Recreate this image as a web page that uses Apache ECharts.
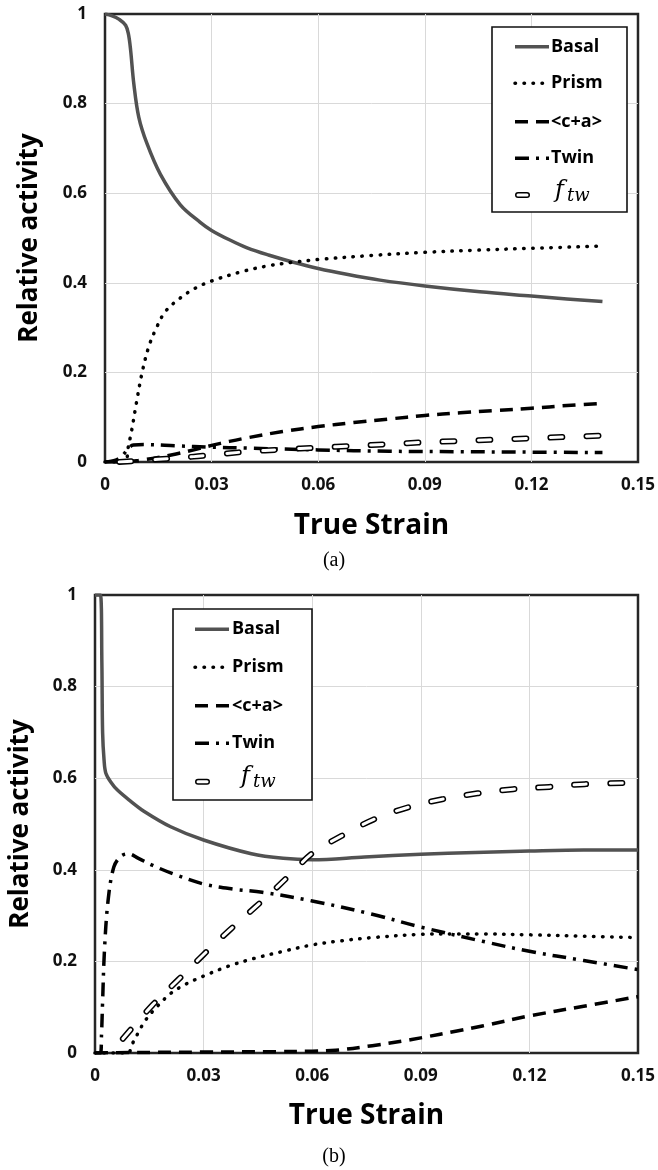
<!DOCTYPE html>
<html><head><meta charset="utf-8">
<script src="https://cdn.jsdelivr.net/npm/echarts@6/dist/echarts.min.js"></script>
<style>html,body{margin:0;padding:0;background:#fff}#c{width:658px;height:1170px}</style>
</head><body><div id="c"></div>
<script>
// ---- tick labels / names ----
const xTickLabels = ['0','0.03','0.06','0.09','0.12','0.15'];
const yTickLabels = ['0','0.2','0.4','0.6','0.8','1'];
const seriesNames = ['Basal','Prism','<c+a>','Twin','f_tw'];
const panelLabels = ['(a)','(b)'];

// ---- panel (a) data: [true strain, relative activity] ----
const basalA = [[0,1],[0.002,0.996],[0.004,0.988],[0.0058,0.975],[0.0066,0.955],[0.0072,0.92],[0.0081,0.845],[0.0095,0.77],[0.0118,0.711],[0.0156,0.642],[0.0212,0.574],[0.0268,0.535],[0.030,0.517],[0.035,0.496],[0.040,0.478],[0.046,0.462],[0.053,0.446],[0.060,0.432],[0.068,0.419],[0.0774,0.406],[0.090,0.393],[0.1055,0.380],[0.120,0.3705],[0.130,0.364],[0.140,0.358]];
const prismA = [[0,0],[0.006,0],[0.0064,0.027],[0.0075,0.07],[0.0088,0.13],[0.0104,0.198],[0.0123,0.257],[0.0145,0.30],[0.017,0.336],[0.021,0.365],[0.0254,0.388],[0.030,0.404],[0.0385,0.425],[0.046,0.438],[0.053,0.446],[0.060,0.452],[0.075,0.461],[0.090,0.468],[0.105,0.473],[0.120,0.477],[0.140,0.482]];
const caA = [[0,0],[0.005,0],[0.010,0.004],[0.015,0.010],[0.020,0.018],[0.025,0.027],[0.030,0.037],[0.035,0.046],[0.040,0.054],[0.050,0.068],[0.060,0.079],[0.070,0.088],[0.080,0.096],[0.090,0.104],[0.100,0.110],[0.110,0.115],[0.120,0.120],[0.130,0.126],[0.140,0.131]];
const twinA = [[0,0],[0.003,0.004],[0.005,0.015],[0.0065,0.03],[0.008,0.038],[0.011,0.039],[0.020,0.036],[0.030,0.033],[0.040,0.031],[0.060,0.027],[0.080,0.024],[0.100,0.023],[0.120,0.022],[0.140,0.021]];
const ftwA = [[0.004,0],[0.010,0.003],[0.015,0.006],[0.020,0.009],[0.025,0.012],[0.030,0.016],[0.040,0.023],[0.050,0.028],[0.060,0.032],[0.070,0.036],[0.080,0.040],[0.090,0.044],[0.100,0.047],[0.110,0.050],[0.120,0.053],[0.130,0.056],[0.140,0.059]];

// ---- panel (b) data ----
const basalB = [[0,1],[0.0015,1],[0.0019,0.85],[0.0021,0.70],[0.0025,0.64],[0.003,0.611],[0.0045,0.59],[0.0062,0.574],[0.0098,0.550],[0.0135,0.528],[0.0209,0.494],[0.030,0.465],[0.0432,0.435],[0.052,0.425],[0.060,0.422],[0.0745,0.428],[0.090,0.434],[0.105,0.438],[0.120,0.441],[0.135,0.443],[0.150,0.443]];
const prismB = [[0,0],[0.0092,0],[0.010,0.015],[0.012,0.045],[0.0138,0.07],[0.017,0.10],[0.0209,0.13],[0.025,0.15],[0.030,0.168],[0.037,0.19],[0.0442,0.207],[0.052,0.222],[0.060,0.236],[0.068,0.245],[0.0766,0.252],[0.090,0.259],[0.100,0.26],[0.107,0.26],[0.120,0.258],[0.135,0.255],[0.150,0.252]];
const caB = [[0,0],[0.010,0.001],[0.030,0.002],[0.050,0.003],[0.060,0.004],[0.0665,0.006],[0.0766,0.016],[0.085,0.026],[0.090,0.033],[0.100,0.048],[0.107,0.059],[0.120,0.081],[0.135,0.102],[0.150,0.123]];
const twinB = [[0,0],[0.0015,0],[0.0018,0.04],[0.0021,0.112],[0.0026,0.222],[0.0036,0.332],[0.0052,0.406],[0.0072,0.43],[0.0092,0.435],[0.012,0.425],[0.0158,0.41],[0.022,0.39],[0.030,0.369],[0.038,0.358],[0.0462,0.351],[0.060,0.332],[0.0766,0.303],[0.090,0.275],[0.107,0.244],[0.120,0.222],[0.135,0.202],[0.150,0.182]];
const ftwB = [[0.0077,0.031],[0.0158,0.104],[0.023,0.16],[0.030,0.215],[0.037,0.267],[0.0442,0.318],[0.0503,0.362],[0.055,0.398],[0.060,0.436],[0.0681,0.474],[0.077,0.51],[0.0863,0.536],[0.0959,0.554],[0.1057,0.567],[0.1155,0.576],[0.1255,0.581],[0.1353,0.587],[0.150,0.59]];

// ---- styles ----
const FONT = '"Open Sans", "Noto Sans", sans-serif';
const STYLES = {
  basal: {color:'#525252', width:3.5, type:'solid'},
  prism: {color:'#000', width:3.5, type:[0.5, 8.5], cap:'round'},
  ca:    {color:'#000', width:3.5, type:[13, 8], cap:'butt'},
  twin:  {color:'#000', width:3.5, type:[14, 7, 3, 7], cap:'butt'},
  ftwO:  {color:'#000', width:6, type:[12, 24], cap:'round'},
  ftwI:  {color:'#fff', width:3, type:[12, 24], cap:'round'}
};

const chart = echarts.init(document.getElementById('c'), null, {renderer:'canvas'});

function xAxis(gi, gap){
  return {type:'value', gridIndex:gi, min:0, max:0.15, interval:0.03,
    name:'True Strain', nameLocation:'middle', nameGap:gap,
    nameTextStyle:{fontFamily:FONT, fontWeight:'bold', fontSize:28, color:'#000'},
    axisLine:{show:false}, axisTick:{show:false},
    axisLabel:{margin:15, fontFamily:FONT, fontWeight:'bold', fontSize:17, color:'#111',
      formatter:v => xTickLabels[Math.round(v/0.03)] ?? ''},
    splitLine:{show:true, showMinLine:false, showMaxLine:false, lineStyle:{color:'#d9d9d9', width:1}}
  };
}
function yAxis(gi, gap){
  return {type:'value', gridIndex:gi, min:0, max:1, interval:0.2,
    name:'Relative activity', nameLocation:'middle', nameGap:gap,
    nameTextStyle:{fontFamily:FONT, fontWeight:'bold', fontSize:26, color:'#000'},
    axisLine:{show:false}, axisTick:{show:false},
    axisLabel:{margin:18, fontFamily:FONT, fontWeight:'bold', fontSize:17, color:'#111',
      formatter:v => yTickLabels[Math.round(v/0.2)] ?? ''},
    splitLine:{show:true, showMinLine:false, showMaxLine:false, lineStyle:{color:'#d9d9d9', width:1}}
  };
}
function line(name, data, gi, st, z){
  return {type:'line', name, data, xAxisIndex:gi, yAxisIndex:gi, symbol:'none', showSymbol:false,
    smooth:0.35, silent:true, z:z||2,
    lineStyle:{color:st.color, width:st.width, type:st.type, cap:st.cap || 'butt', join:'round'},
    itemStyle:{color:st.color}};
}

function legend(box, ix0, ix1, tx, rows, fx, fy){
  const els = [];
  els.push({type:'rect', shape:{x:box[0], y:box[1], width:box[2], height:box[3]},
    style:{fill:'#fff', stroke:'#111', lineWidth:1.6}, z:100});
  const icon = (y, st) => ({type:'line', shape:{x1:ix0, y1:y, x2:ix1, y2:y},
    style:{stroke:st.color, lineWidth:st.width, lineDash:st.type==='solid'?null:st.type, lineCap:st.cap||'butt'}, z:101});
  els.push(icon(rows[0], STYLES.basal));
  els.push(icon(rows[1], STYLES.prism));
  els.push(icon(rows[2], STYLES.ca));
  els.push(icon(rows[3], STYLES.twin));
  els.push({type:'line', shape:{x1:ix0+3, y1:rows[4], x2:ix0+12, y2:rows[4]},
    style:{stroke:'#000', lineWidth:6, lineCap:'round'}, z:101});
  els.push({type:'line', shape:{x1:ix0+3, y1:rows[4], x2:ix0+12, y2:rows[4]},
    style:{stroke:'#fff', lineWidth:3, lineCap:'round'}, z:102});
  for (let i=0;i<4;i++){
    els.push({type:'text', x:tx, y:rows[i], style:{text:seriesNames[i], fontFamily:FONT, fontWeight:'bold', fontSize:18,
      fill:'#000', align:'left', verticalAlign:'middle'}, z:101});
  }
  els.push({type:'text', x:fx, y:fy, style:{text:'f', fontFamily:'"DejaVu Serif", serif', fontStyle:'italic', fontSize:24,
    fill:'#000', align:'left', verticalAlign:'middle'}, z:101});
  els.push({type:'text', x:fx+12, y:fy+5, style:{text:'tw', fontFamily:'"DejaVu Serif", serif', fontStyle:'italic', fontSize:18,
    fill:'#000', align:'left', verticalAlign:'middle'}, z:101});
  return els;
}

const graphics = [].concat(
  legend([492,27,135,185], 515, 549, 551, [46.7,83.3,121.7,158.3,195], 555, 191),
  legend([173,609,139,191], 195, 229, 232, [629.3,667.3,705.7,743.3,781.7], 241, 777),
  [
    {type:'text', x:334, y:561, style:{text:panelLabels[0], fontFamily:'"Liberation Serif", serif', fontSize:20, fill:'#000', align:'center', verticalAlign:'middle'}},
    {type:'text', x:334, y:1157, style:{text:panelLabels[1], fontFamily:'"Liberation Serif", serif', fontSize:20, fill:'#000', align:'center', verticalAlign:'middle'}}
  ]
);

chart.setOption({
  animation:false,
  backgroundColor:'#fff',
  grid:[
    {left:105, top:14, width:534, height:448, show:true, borderColor:'#262626', borderWidth:2.5, backgroundColor:'transparent', containLabel:false},
    {left:94, top:595, width:549, height:458, show:true, borderColor:'#262626', borderWidth:2.5, backgroundColor:'transparent', containLabel:false}
  ],
  xAxis:[xAxis(0, 50), xAxis(1, 49)],
  yAxis:[yAxis(0, 62), yAxis(1, 61)],
  series:[
    line(seriesNames[0], basalA, 0, STYLES.basal, 3),
    line(seriesNames[1], prismA, 0, STYLES.prism, 3),
    line(seriesNames[2], caA, 0, STYLES.ca, 3),
    line(seriesNames[3], twinA, 0, STYLES.twin, 3),
    line(seriesNames[4], ftwA, 0, STYLES.ftwO, 4),
    line(seriesNames[4], ftwA, 0, STYLES.ftwI, 5),
    line(seriesNames[0], basalB, 1, STYLES.basal, 3),
    line(seriesNames[1], prismB, 1, STYLES.prism, 3),
    line(seriesNames[2], caB, 1, STYLES.ca, 3),
    line(seriesNames[3], twinB, 1, STYLES.twin, 3),
    line(seriesNames[4], ftwB, 1, STYLES.ftwO, 4),
    line(seriesNames[4], ftwB, 1, STYLES.ftwI, 5)
  ],
  graphic: graphics
});
</script>
</body></html>
